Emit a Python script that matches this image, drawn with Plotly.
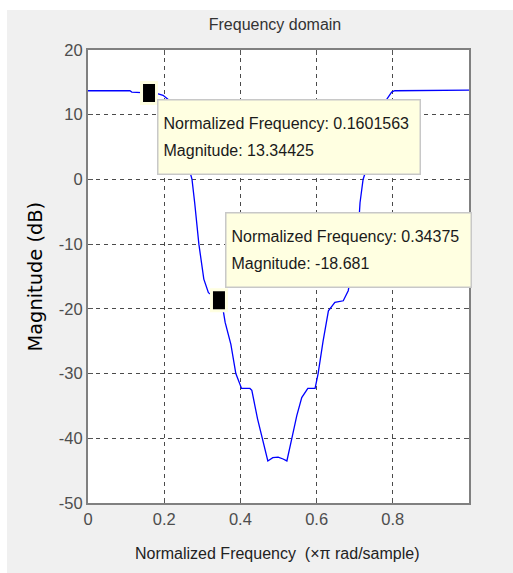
import plotly.graph_objects as go

# Magnitude response of the band-stop filter (normalized frequency, dB)
freq = [0.0, 0.11, 0.115, 0.1601563, 0.18, 0.197, 0.22, 0.245, 0.273, 0.28,
        0.291, 0.304, 0.316, 0.34375, 0.355, 0.36, 0.375, 0.388, 0.403, 0.425,
        0.43, 0.445, 0.457, 0.472, 0.485, 0.499, 0.512, 0.522, 0.535, 0.548,
        0.561, 0.577, 0.596, 0.604, 0.617, 0.631, 0.648, 0.670, 0.683, 0.69,
        0.712, 0.714, 0.722, 0.755, 0.782, 0.797, 0.805, 0.885, 0.89, 1.0]
mag_db = [13.7, 13.7, 13.5, 13.34425, 13.3, 13.0, 11.9, 6.0, 0.0, -3.6,
          -10.0, -15.4, -17.5, -18.681, -20.3, -22.1, -25.5, -30.0, -32.3, -32.3,
          -32.6, -37.0, -40.0, -43.5, -43.0, -42.9, -43.2, -43.5, -40.0, -36.5,
          -33.7, -32.3, -32.3, -30.0, -25.0, -20.3, -19.0, -18.75, -17.2, -15.0,
          -5.5, -3.6, 0.0, 6.0, 12.2, 13.5, 13.7, 13.7, 13.8, 13.8]

# Data tips shown on the curve
tip_freq = [0.1601563, 0.34375]
tip_mag = [13.34425, -18.681]
tip_freq_text = ["0.1601563", "0.34375"]
tip_mag_text = ["13.34425", "-18.681"]

x_ticks = [0, 0.2, 0.4, 0.6, 0.8]
y_ticks = [-50, -40, -30, -20, -10, 0, 10, 20]

FONT = "Liberation Sans, Arial, Helvetica, sans-serif"
BG = "#F0F0F0"
TIP_BG = "#FFFFE1"

fig = go.Figure()
fig.add_trace(go.Scatter(x=freq, y=mag_db, mode="lines",
                         line=dict(color="#0000FF", width=1.3),
                         hoverinfo="skip", showlegend=False))

axis_common = dict(
    showline=True, linecolor="#808080", linewidth=2, mirror="ticks",
    ticks="inside", ticklen=5, tickcolor="#555555", tickwidth=1,
    showgrid=True, gridcolor="#4a4a4a", gridwidth=1, griddash="4px,4px",
    zeroline=False, tickfont=dict(family=FONT, size=16.5, color="#4d4d4d"),
    fixedrange=True,
)

fig.update_xaxes(range=[0, 1], tickvals=x_ticks,
                 ticktext=[("%g" % v) for v in x_ticks], **axis_common)
fig.update_yaxes(range=[-50, 20], tickvals=y_ticks,
                 ticktext=[str(v) for v in y_ticks], **axis_common)

shapes = [
    # white strips along the top and left edges of the figure
    dict(type="rect", xref="paper", yref="paper", x0=-0.25, x1=1.2,
         y0=(503 - 10) / 453, y1=1.2, fillcolor="white", line_width=0, layer="below"),
    dict(type="rect", xref="paper", yref="paper", x0=-0.25, x1=(7 - 88) / 381,
         y0=-0.2, y1=1.2, fillcolor="white", line_width=0, layer="below"),
]
# data tip markers: black squares with a pale halo
for fx, my in zip(tip_freq, tip_mag):
    shapes.append(dict(type="rect", xref="x", yref="y",
                       xsizemode="pixel", xanchor=fx, x0=-7.5, x1=7.5,
                       ysizemode="pixel", yanchor=my, y0=-10.5, y1=10.5,
                       fillcolor="black", line=dict(color=TIP_BG, width=3)))

annotations = []
tip_box = [dict(yanchor="top", xshift=7.5, yshift=-6, width=251),
           dict(yanchor="bottom", xshift=6.5, yshift=12, width=234)]
for fx, my, ft, mt, box in zip(tip_freq, tip_mag, tip_freq_text, tip_mag_text, tip_box):
    text = (f"<span style='font-size:16px'>Normalized Frequency: {ft}</span><br>"
            f"<span style='font-size:16px'>Magnitude: {mt}</span>")
    annotations.append(dict(
        x=fx, y=my, xref="x", yref="y", showarrow=False, xanchor="left",
        align="left", valign="middle", text=text, height=63,
        font=dict(family=FONT, size=20.8, color="#1a1a1a"),
        bgcolor=TIP_BG, bordercolor="#C8C8C8", borderwidth=1.5, borderpad=5,
        **box))

# axis labels
annotations.append(dict(text="Normalized Frequency  (\u00d7\u03c0 rad/sample)",
                        xref="paper", yref="paper", x=(277 - 88) / 381, y=0,
                        yshift=-50, showarrow=False, xanchor="center", yanchor="middle",
                        font=dict(family=FONT, size=16, color="#222222")))
annotations.append(dict(text="Magnitude (dB)", textangle=-90,
                        xref="paper", yref="paper", x=0, y=0.5, xshift=-53,
                        showarrow=False, xanchor="center", yanchor="middle",
                        font=dict(family="DejaVu Sans, Verdana, sans-serif",
                                  size=19.4, color="#000000")))

fig.update_layout(
    width=513, height=573,
    margin=dict(l=88, r=44, t=50, b=70),
    paper_bgcolor=BG, plot_bgcolor="white",
    title=dict(text="Frequency domain", x=275 / 513, xanchor="center",
               y=1 - 24 / 573, yanchor="middle",
               font=dict(family=FONT, size=16, color="#333333")),
    shapes=shapes, annotations=annotations,
    showlegend=False, hovermode=False,
)

fig.write_html("out.html", config={"displayModeBar": False})
